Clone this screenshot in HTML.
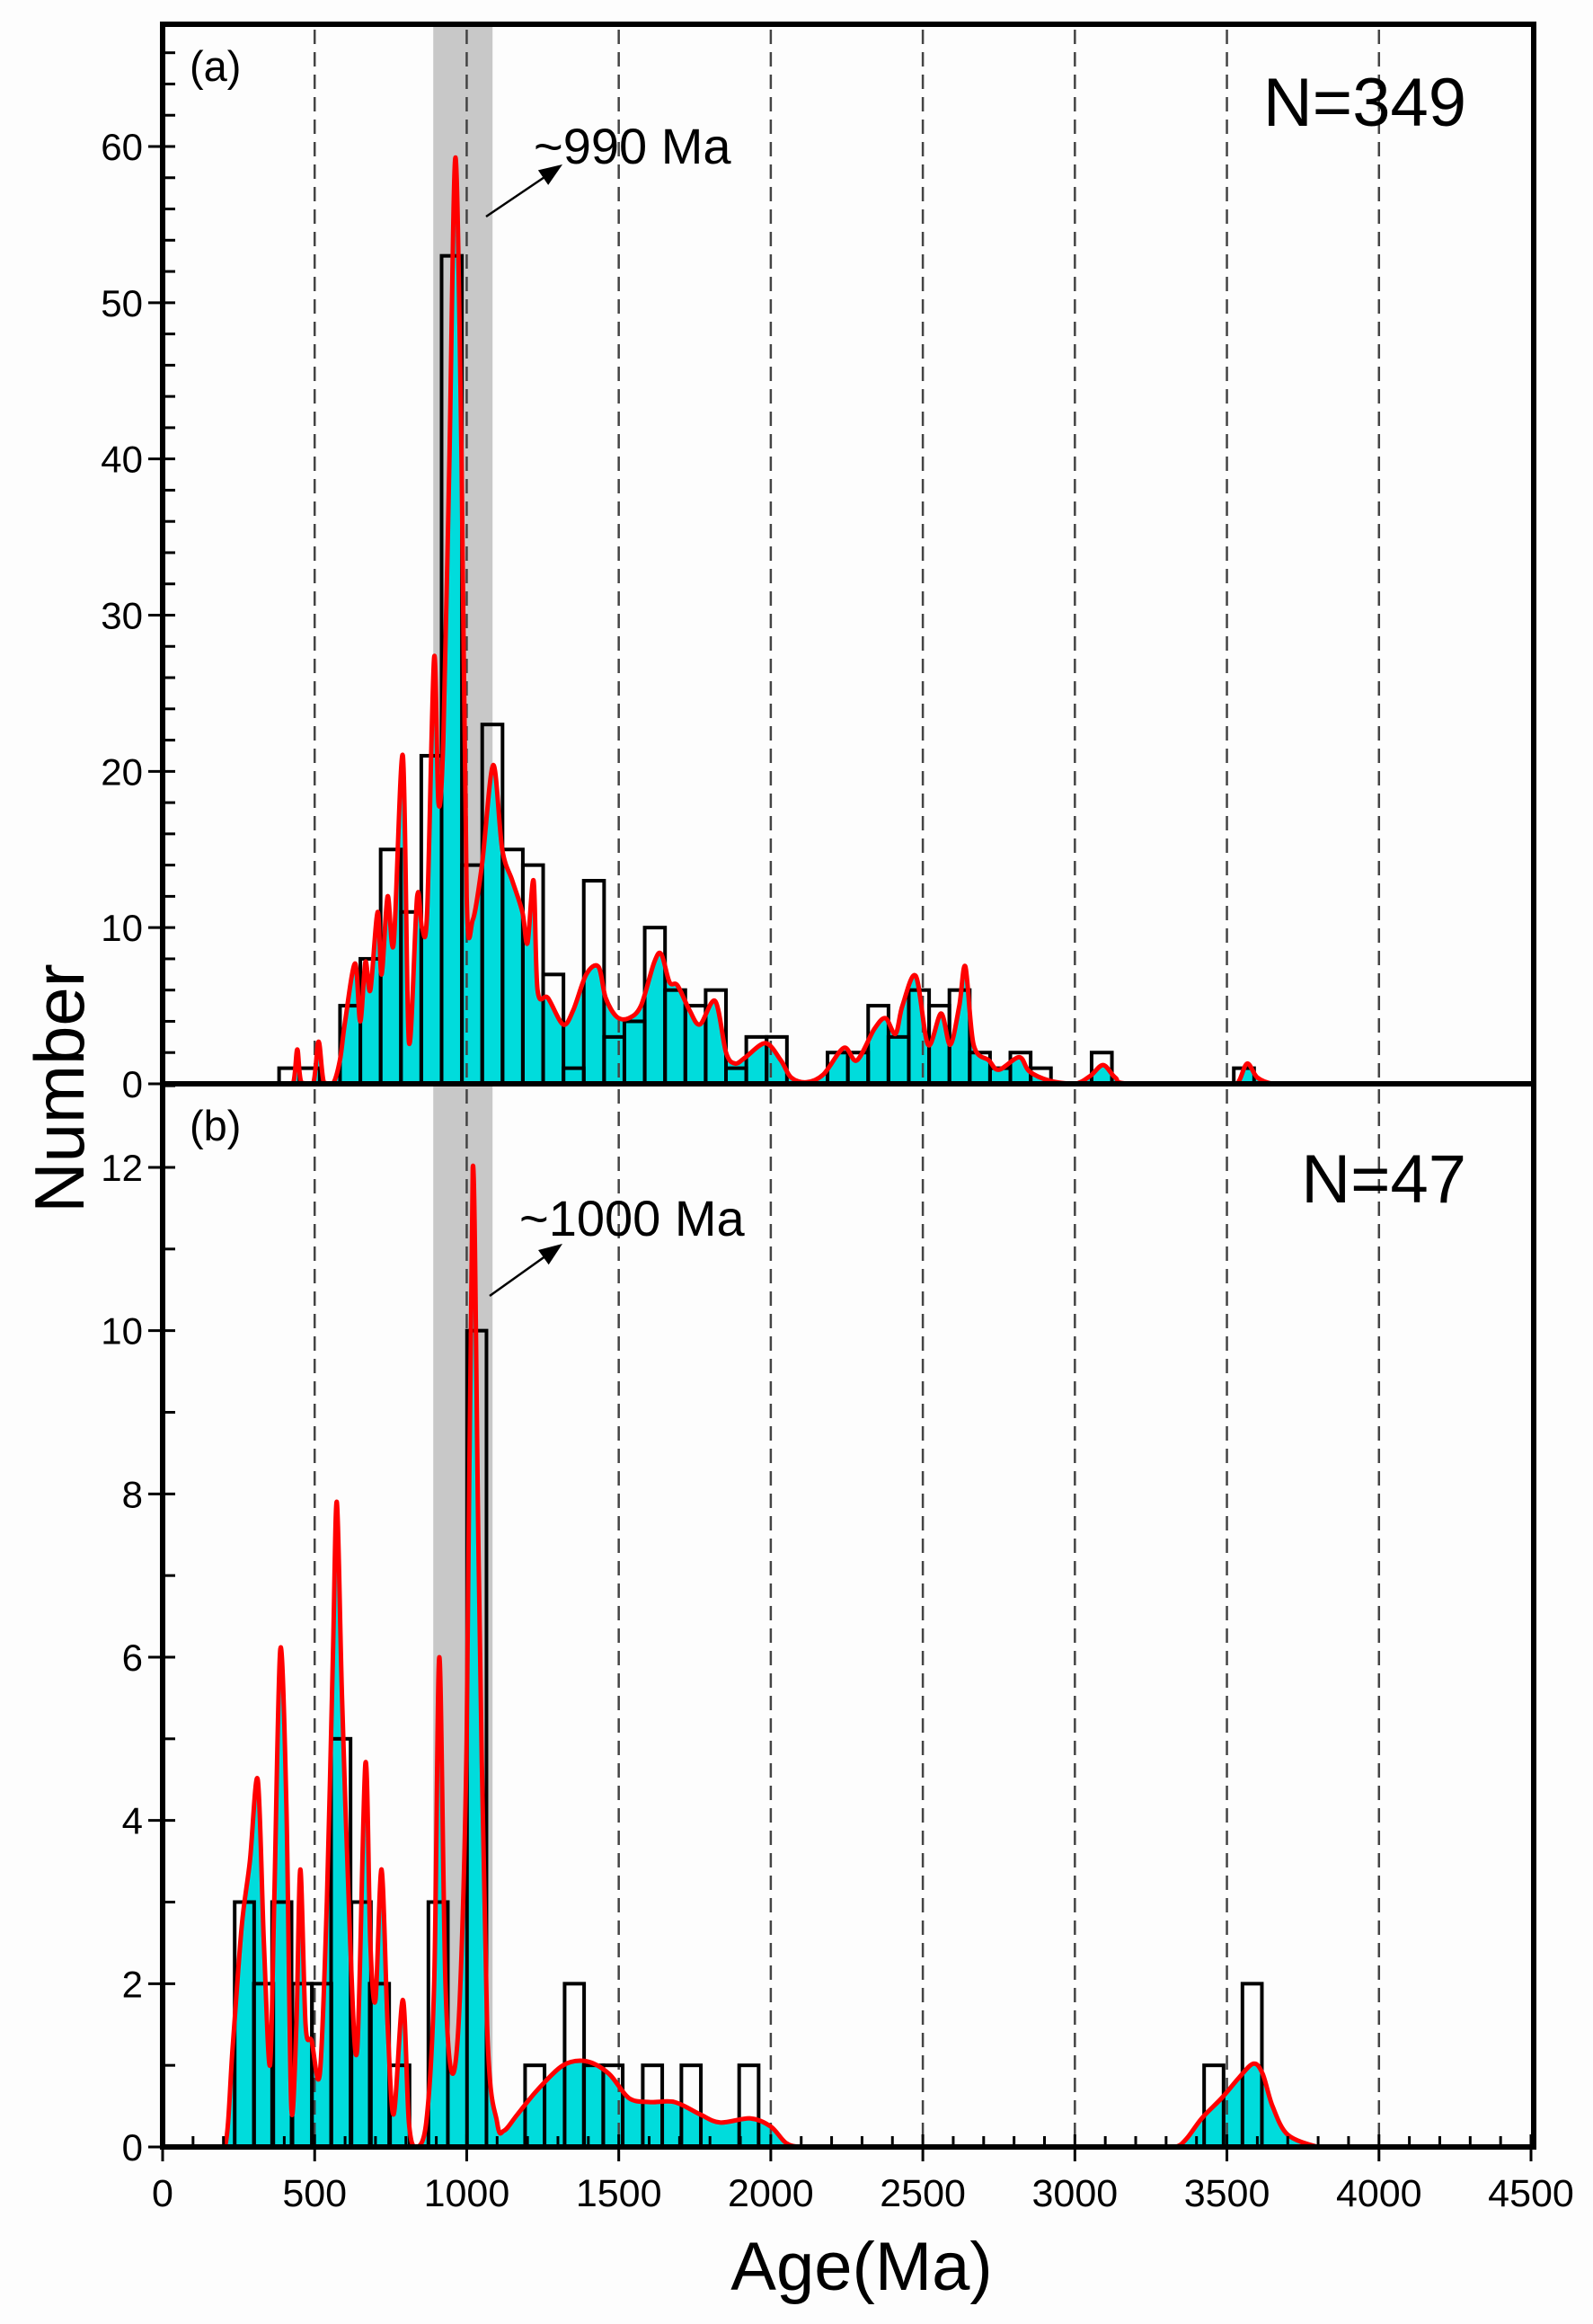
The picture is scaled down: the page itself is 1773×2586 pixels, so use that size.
<!DOCTYPE html>
<html><head><meta charset="utf-8"><style>
html,body{margin:0;padding:0;background:#fff;}
svg{display:block;font-family:"Liberation Sans",Arial,sans-serif;}
</style></head><body>
<svg id="chart" width="1773" height="2586" viewBox="0 0 1773 2586">
<rect x="0" y="0" width="1773" height="2586" fill="#fdfdfd"/>
<g id="layer"></g>
</svg>
<script>
// ---- data ----
const xTicks = [0,500,1000,1500,2000,2500,3000,3500,4000,4500];
const dashLines = [500,1000,1500,2000,2500,3000,3500,4000];
const band = [890,1085];
const yTicksA = [0,10,20,30,40,50,60];
const yTicksB = [0,2,4,6,8,10,12];
// panel a histogram: bin start ages (Ma), width, counts
const binStartA = 383;
const binWidthA = 66.8;
const countsA = [1,1,0,5,8,15,11,21,53,14,23,15,14,7,1,13,3,4,10,6,5,6,1,3,3,0,0,2,2,5,3,6,5,6,2,1,2,1,0,0,2,0,0,0,0,0,0,1];
// panel b histogram
const binWidthB = 64;
const binStartsB = [237,300,360,427,491,554,621,681,748,874,1001,1192,1322,1385,1449,1579,1706,1896,3425,3551];
const countsB = [3,2,3,2,2,5,3,2,1,3,10,1,2,1,1,1,1,1,1,2];
// KDE curves: ages and values
const kdeAgeA = [0,400,430,443,456,495,513,530,560,583,600,633,650,667,683,707,720,740,760,790,810,837,853,870,893,907,923,943,963,983,1000,1020,1050,1087,1117,1150,1183,1200,1220,1233,1267,1317,1350,1393,1433,1457,1493,1533,1573,1617,1640,1667,1693,1733,1767,1817,1853,1883,1917,1983,2033,2067,2117,2173,2240,2283,2340,2377,2410,2433,2477,2517,2560,2590,2620,2640,2667,2717,2750,2817,2850,2917,3000,3050,3093,3133,3183,3517,3540,3567,3600,3650,3700];
const kdeValA = [0,0,0.1,2.2,0.1,0,2.7,0.1,0,1.5,4,7.7,4,7.8,6,11,7,12,9,21,2.7,12,10,11,27.3,18,22,40,59.3,40,12,10.5,14,20.4,15,13,11,9,13,6,5.5,3.8,4.7,7,7.5,5.5,4.3,4.2,5,7.8,8.3,6.5,6.3,4.7,3.8,5.3,2,1.3,1.7,2.6,1.5,0.4,0.1,0.6,2.3,1.5,3.5,4.2,3.2,5,6.9,2.5,4.5,2.5,5,7.5,2.5,1.5,0.9,1.7,0.8,0.2,0,0.5,1.2,0.4,0,0,0.2,1.3,0.4,0,0];
const kdeAgeB = [150,205,230,260,287,313,333,353,367,387,407,423,440,453,470,490,517,540,560,573,590,617,640,667,683,700,720,740,760,790,810,833,867,893,910,930,953,977,1000,1020,1040,1067,1100,1123,1167,1233,1317,1393,1467,1533,1600,1683,1767,1833,1933,2000,2050,2100,2200,3250,3330,3367,3417,3483,3540,3587,3617,3650,3700,3800,3850];
const kdeValB = [0,0,1.2,2.7,3.5,4.5,2.5,1,3,6.1,4.2,0.5,1.5,3.4,1.5,1.3,0.9,3,6,7.9,5.5,2.5,1.2,4.7,2.5,1.8,3.4,1.5,0.4,1.8,0.3,0,0.3,2,6,2,0.9,1.8,5,12,7,1.5,0.3,0.2,0.4,0.7,1,1.05,0.9,0.6,0.55,0.55,0.4,0.3,0.35,0.25,0.05,0,0,0,0,0.1,0.35,0.6,0.85,1.02,0.9,0.5,0.15,0,0];

// ---- geometry ----
const NS='http://www.w3.org/2000/svg';
const L=181, R=1704, T=27, MID=1206, B=2389;
const xS = a => L + (a/4500)*(R-L);
const yA = v => MID - v*(MID-163)/60;
const yB = v => B - v*(B-1299)/12;
const layer=document.getElementById('layer');
function mk(tag, attrs, parent){const e=document.createElementNS(NS,tag);for(const k in attrs)e.setAttribute(k,attrs[k]);(parent||layer).appendChild(e);return e;}

function smoothPath(ages, vals, ys){
  const p = ages.map((a,i)=>[xS(a), ys(Math.max(0,vals[i]))]);
  let d='M'+p[0][0].toFixed(1)+','+p[0][1].toFixed(1);
  for(let i=0;i<p.length-1;i++){
    const p0=p[Math.max(0,i-1)],p1=p[i],p2=p[i+1],p3=p[Math.min(p.length-1,i+2)];
    const t=0.16;
    let c1=[p1[0]+(p2[0]-p0[0])*t, p1[1]+(p2[1]-p0[1])*t];
    let c2=[p2[0]-(p3[0]-p1[0])*t, p2[1]-(p3[1]-p1[1])*t];
    const base=ys(0);
    c1[1]=Math.min(c1[1],base); c2[1]=Math.min(c2[1],base);
    d+=' C'+c1[0].toFixed(1)+','+c1[1].toFixed(1)+' '+c2[0].toFixed(1)+','+c2[1].toFixed(1)+' '+p2[0].toFixed(1)+','+p2[1].toFixed(1);
  }
  return d;
}

function panel(id, top, bottom, ys, yTicks, ymax, starts, width, counts, kA, kV, label, nText, nY, annText, annX, annY, arrow){
  const g=mk('g',{});
  
  
  const bd=mk('rect',{x:xS(band[0]),y:top,width:xS(band[1])-xS(band[0]),height:bottom-top,fill:'#c8c8c8'},g);
  
  
  const d=smoothPath(kA,kV,ys);
  const last=kA[kA.length-1];
  const f=mk('path',{d:d+' L'+xS(last)+','+ys(0)+' L'+xS(kA[0])+','+ys(0)+' Z',fill:'#00dcdc',stroke:'none'},g);
  
  
  dashLines.forEach(a=>{
    const l=mk('line',{x1:xS(a),x2:xS(a),y1:top+6,y2:bottom,stroke:'#444',['stroke-width']:2.5,['stroke-dasharray']:'16,9'},g);
    
    
  });
  counts.forEach((c,i)=>{
    if(!c) return;
    const s = Array.isArray(starts)? starts[i] : starts + i*width;
    const r=mk('rect',{x:xS(s),y:ys(c),width:xS(s+width)-xS(s),height:ys(0)-ys(c),fill:'none',stroke:'#000',['stroke-width']:4},g);
    
    
  });
  const kl=mk('path',{d:d,fill:'none',stroke:'#ff0000',['stroke-width']:5,['stroke-linejoin']:'round'},g);
  
  
  for(let v=0; v<=ymax; v+= (id==='a'?2:1)){
    const major = yTicks.includes(v);
    const t=mk('line',{x1:major?L-16:L,x2:L+14,y1:ys(v),y2:ys(v),stroke:'#000',['stroke-width']:3},g);
    
    
  }
  yTicks.forEach(v=>{
    const tx=mk('text',{x:L-22,y:ys(v)+15,['text-anchor']:'end',['font-size']:42},g);
    tx.textContent=v;
    
    
  });
  const lb=mk('text',{x:211,y:top+63,['font-size']:47},g);
  lb.textContent=label;
  
  
  const nt=mk('text',{x:1632,y:nY,['text-anchor']:'end',['font-size']:76},g);
  nt.textContent=nText;
  
  
  const at=mk('text',{x:annX,y:annY,['font-size']:56},g);
  at.textContent=annText;
  
  
  const ar=mk('line',{x1:arrow[0],y1:arrow[1],x2:arrow[2]-8,y2:arrow[3]+6,stroke:'#000',['stroke-width']:2.5},g);
  
  
  const ang=Math.atan2(arrow[3]-arrow[1],arrow[2]-arrow[0]);
  const hx=arrow[2],hy=arrow[3],hl=26,hw=10;
  const bx=hx-hl*Math.cos(ang),by=hy-hl*Math.sin(ang);
  const ah=mk('polygon',{points:`${hx},${hy} ${bx-hw*Math.sin(ang)},${by+hw*Math.cos(ang)} ${bx+hw*Math.sin(ang)},${by-hw*Math.cos(ang)}`,fill:'#000'},g);
  
  
}

panel('a',T,MID,yA,yTicksA,66,binStartA,binWidthA,countsA,kdeAgeA,kdeValA,'(a)','N=349',140,'~990 Ma',594,182,[541,241,626,183]);
panel('b',MID,B,yB,yTicksB,13,binStartsB,binWidthB,countsB,kdeAgeB,kdeValB,'(b)','N=47',1338,'~1000 Ma',578,1375,[545,1442,626,1384]);

const fr=mk('rect',{x:L,y:T,width:R+3-L,height:B-T,fill:'none',stroke:'#000',['stroke-width']:6});


const dv=mk('line',{x1:L,x2:R+3,y1:MID,y2:MID,stroke:'#000',['stroke-width']:6});


for(let a=0;a<=4500;a+=100){
  const major=a%500===0;
  const t=mk('line',{x1:xS(a),x2:xS(a),y1:major?B-14:B-12,y2:major?B+16:B,stroke:'#000',['stroke-width']:3});
  
  
}
xTicks.forEach(a=>{
  const tx=mk('text',{x:xS(a),y:B+66,['text-anchor']:'middle',['font-size']:43});
  tx.textContent=a;
  
  
});
const xt=mk('text',{x:959,y:2548,['text-anchor']:'middle',['font-size']:76});
xt.textContent='Age(Ma)';


const yt=mk('text',{x:0,y:0,['text-anchor']:'middle',['font-size']:78,transform:'translate(93,1211) rotate(-90)'});
yt.textContent='Number';


</script>
</body></html>
